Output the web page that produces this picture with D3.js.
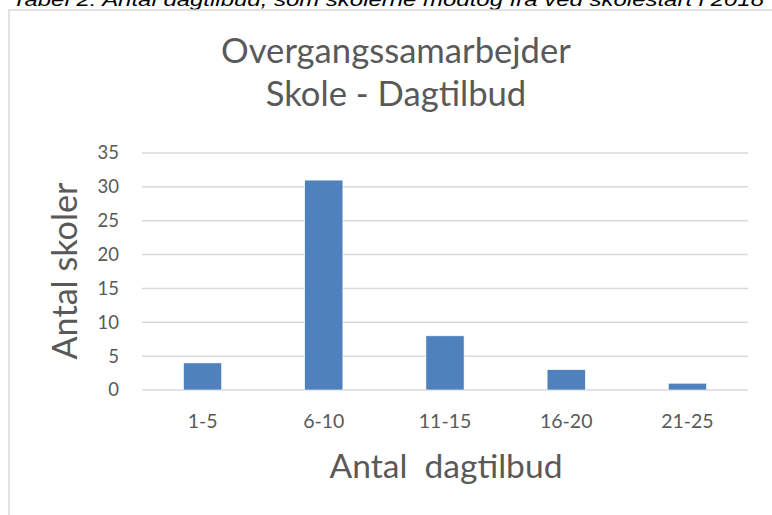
<!DOCTYPE html>
<html><head><meta charset="utf-8">
<script src="https://cdn.jsdelivr.net/npm/d3@7"></script>
<style>body{margin:0;background:#fff;}svg{display:block;}</style>
</head><body>
<svg id="c" width="772" height="515"></svg>
<script>
const categories = ["1-5","6-10","11-15","16-20","21-25"];
const values = [4, 31, 8, 3, 1];
const yTicks = [0,5,10,15,20,25,30,35];
const caption = "Tabel 2: Antal dagtilbud, som skolerne modtog fra ved skolestart i 2018";
const titleLines = ["Overgangssamarbejder","Skole - Dagtilbud"];
const xTitle = "Antal  dagtilbud";
const yTitle = "Antal skoler";

const svg = d3.select("#c");
const font = "Lato, 'Open Sans', sans-serif";
const grey = "#595959";

function fit(sel, targetWidth){
  const w = sel.node().getComputedTextLength();
  const fs = +sel.attr("font-size");
  const nf = fs*targetWidth/w;
  sel.attr("font-size", nf.toFixed(2));
  return nf;
}

// caption (cut off at top)
svg.append("text").attr("x",12).attr("y",6)
  .attr("font-family","'Liberation Sans', Arial, sans-serif").attr("font-style","italic")
  .attr("font-size",19).attr("fill","#000")
  .attr("textLength",752).attr("lengthAdjust","spacingAndGlyphs")
  .text(caption);

// chart frame
svg.append("rect").attr("x",9).attr("y",10).attr("width",800).attr("height",560)
  .attr("fill","#fff").attr("stroke","#d9d9d9").attr("stroke-width",1.5);

const x = d3.scaleBand().domain(categories).range([142,748]).paddingInner(0.685).paddingOuter(0.3425);
const y = d3.scaleLinear().domain([0,35]).range([390,153]);

// grid
svg.append("g").selectAll("line").data(yTicks).join("line")
  .attr("x1",142).attr("x2",748).attr("y1",d=>y(d)).attr("y2",d=>y(d))
  .attr("stroke","#d9d9d9").attr("stroke-width",1.5);

// y axis labels
const ya = svg.append("g").attr("transform","translate(119,0)")
  .call(d3.axisLeft(y).tickValues(yTicks).tickSize(0).tickPadding(0));
ya.select(".domain").remove();
ya.selectAll("text").attr("font-family",font).attr("font-size",18.5).attr("fill",grey);

// bars
svg.append("g").selectAll("rect").data(values).join("rect")
  .attr("x",(d,i)=>x(categories[i])).attr("width",x.bandwidth())
  .attr("y",d=>y(d)).attr("height",d=>y(0)-y(d))
  .attr("fill","#4f81bd").attr("stroke","#fff").attr("stroke-width",0.6);

// x axis labels
const xa = svg.append("g")
  .call(d3.axisBottom(x).tickSize(0).tickPadding(0));
xa.select(".domain").remove();
xa.selectAll("text").attr("font-family",font).attr("font-size",19.5).attr("fill",grey).attr("dy",null).attr("y",428);

// titles
const tt = svg.append("g").selectAll("text").data(titleLines).join("text")
  .attr("x",396).attr("y",(d,i)=>63+i*43).attr("text-anchor","middle")
  .attr("font-family",font).attr("font-size",31).attr("fill",grey).text(d=>d);
const tfs = fit(d3.select(tt.nodes()[0]), 350);
tt.attr("font-size", tfs.toFixed(2));

fit(svg.append("text").attr("x",446).attr("y",478).attr("text-anchor","middle")
  .attr("font-family",font).attr("font-size",31).attr("fill",grey)
  .style("white-space","pre").text(xTitle), 233);

fit(svg.append("text").attr("transform","translate(77,271) rotate(-90)").attr("text-anchor","middle")
  .attr("font-family",font).attr("font-size",31).attr("fill",grey).text(yTitle), 177);
</script>
</body></html>
